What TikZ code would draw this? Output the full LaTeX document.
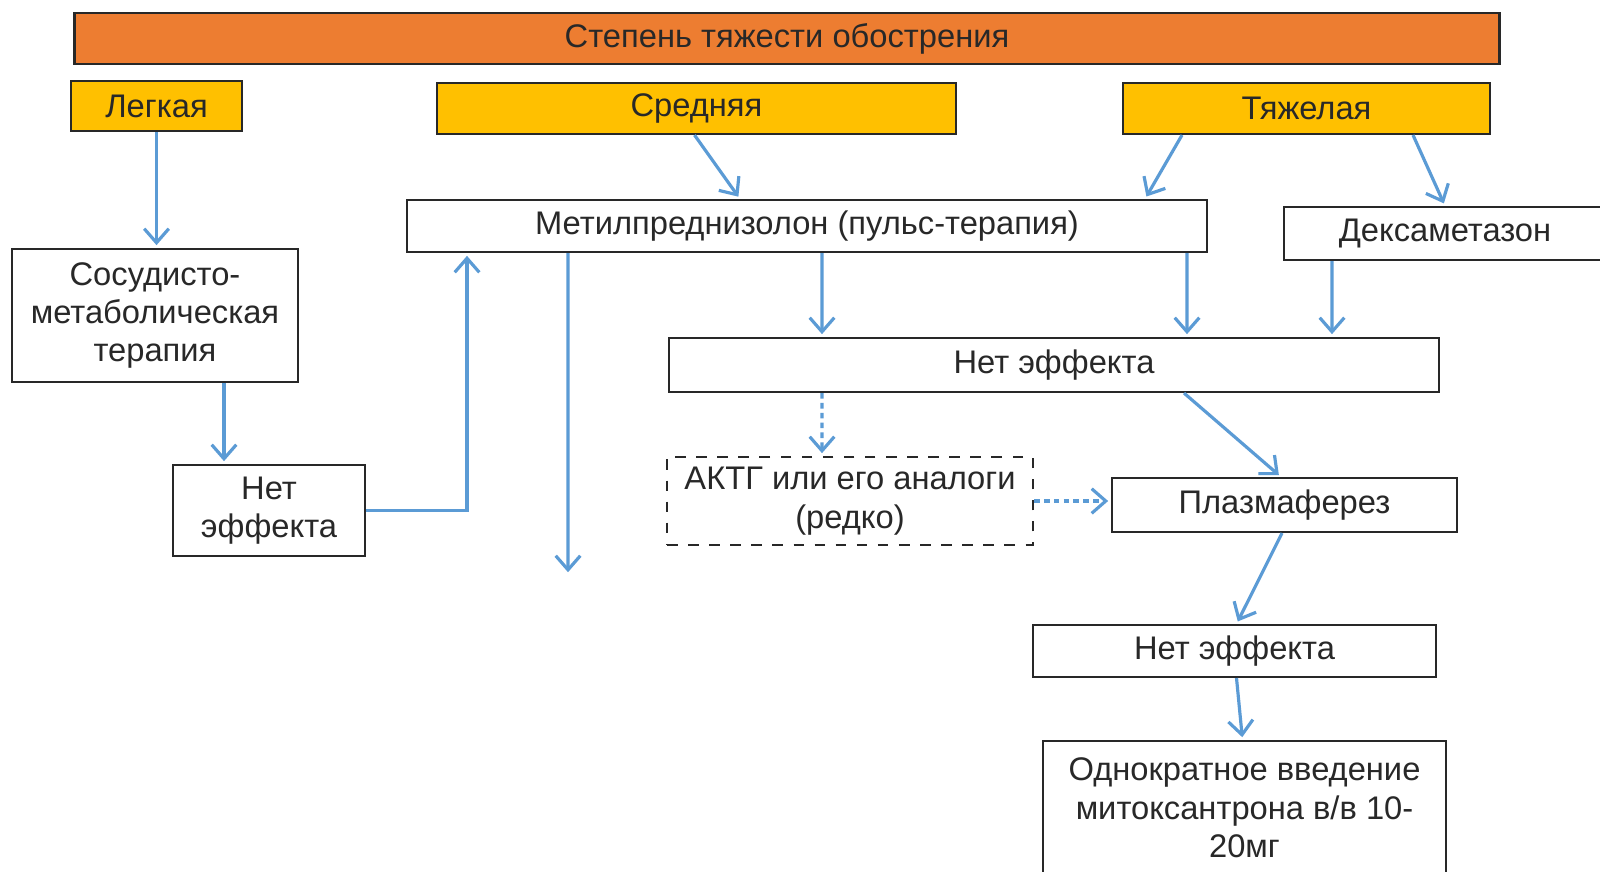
\documentclass[tikz,border=0pt]{standalone}
\usepackage{fontspec}
\setmainfont{Liberation Sans}
\usepackage{tikz}
\usetikzlibrary{arrows.meta}
\definecolor{titleorange}{RGB}{237,125,49}
\definecolor{gradeyellow}{RGB}{255,192,0}
\definecolor{flowblue}{RGB}{91,155,213}
\definecolor{ink}{RGB}{40,40,40}
\newcommand{\boxfont}{\fontsize{9.3}{10.9}\selectfont}
\tikzset{
    box/.style={draw=ink,line width=0.6pt,fill=white,text=ink,align=center,inner sep=0pt,font=\boxfont},
    grade/.style={box,fill=gradeyellow},
    flow/.style={draw=flowblue,line width=0.9pt,shorten >=0.8pt,-{Straight Barb[length=4pt,width=7pt,line width=0.9pt]}},
    maybe/.style={flow,dash pattern=on 1.6pt off 1.2pt}
}

\begin{document}
\begin{tikzpicture}
\useasboundingbox[fill=white] (0,0) rectangle (16,-8.71);
\node[box,fill=titleorange,minimum width=14.25cm,minimum height=0.51cm] (title) at (7.87,-0.385) {Степень тяжести обострения};
\node[grade,minimum width=1.71cm,minimum height=0.50cm] (legk) at (1.565,-1.06) {Легкая};
\node[grade,minimum width=5.19cm,minimum height=0.51cm] (sred) at (6.965,-1.085) {Средняя};
\node[grade,minimum width=3.67cm,minimum height=0.51cm] (tyazh) at (13.065,-1.085) {Тяжелая};
\node[box,minimum width=8.00cm,minimum height=0.52cm] (metil) at (8.07,-2.26) {Метилпреднизолон (пульс-терапия)};
\node[box,minimum width=3.36cm,minimum height=0.53cm] (deksa) at (14.52,-2.335) {Дексаметазон\hspace*{0.14cm}};
\node[box,minimum width=2.86cm,minimum height=1.33cm] (sosud) at (1.55,-3.155) {Сосудисто-\\метаболическая\\терапия};
\node[box,minimum width=1.92cm,minimum height=0.91cm] (noeffA) at (2.69,-5.105) {Нет\\эффекта};
\node[box,minimum width=7.70cm,minimum height=0.54cm] (noeffB) at (10.54,-3.65) {Нет эффекта};
\node[box,dashed,minimum width=3.66cm,minimum height=0.88cm] (aktg) at (8.50,-5.01) {АКТГ или его аналоги\\(редко)};
\node[box,minimum width=3.45cm,minimum height=0.54cm] (plazma) at (12.845,-5.05) {Плазмаферез};
\node[box,minimum width=4.03cm,minimum height=0.52cm] (noeffC) at (12.345,-6.51) {Нет эффекта};
\node[box,minimum width=4.03cm,minimum height=1.34cm] (odno) at (12.445,-8.08) {Однократное введение\\митоксантрона в/в 10-\\20мг};
\coordinate (further) at (5.68,-5.75);
\draw[flow] (legk.south) -- (legk.south |- sosud.north);
\draw[flow] ([xshift=-0.02cm]sred.south) -- ([xshift=-0.67cm]metil.north);
\draw[flow] ([xshift=-1.245cm]tyazh.south) -- ([xshift=3.38cm]metil.north);
\draw[flow] ([xshift=1.065cm]tyazh.south) -- ([xshift=-0.07cm]deksa.north);
\draw[flow] ([xshift=0.69cm]sosud.south) -- ([xshift=-0.45cm]noeffA.north);
\draw[flow] (noeffA.east) -| ([xshift=-3.40cm]metil.south);
\draw[flow] ([xshift=-2.39cm]metil.south) -- (further);
\draw[flow] ([xshift=0.15cm]metil.south) -- ([xshift=-2.32cm]noeffB.north);
\draw[flow] ([xshift=3.80cm]metil.south) -- ([xshift=1.33cm]noeffB.north);
\draw[flow] ([xshift=-1.20cm]deksa.south) -- ([xshift=2.78cm]noeffB.north);
\draw[maybe] ([xshift=-2.32cm]noeffB.south) -- ([xshift=-0.28cm]aktg.north);
\draw[flow] ([xshift=1.30cm]noeffB.south) -- ([xshift=-0.035cm]plazma.north);
\draw[maybe] (aktg.east) -- (aktg.east -| plazma.west);
\draw[flow] ([xshift=-0.025cm]plazma.south) -- ([xshift=0.02cm]noeffC.north);
\draw[flow] ([xshift=0.02cm]noeffC.south) -- ([xshift=-0.02cm]odno.north);
\end{tikzpicture}
\end{document}
